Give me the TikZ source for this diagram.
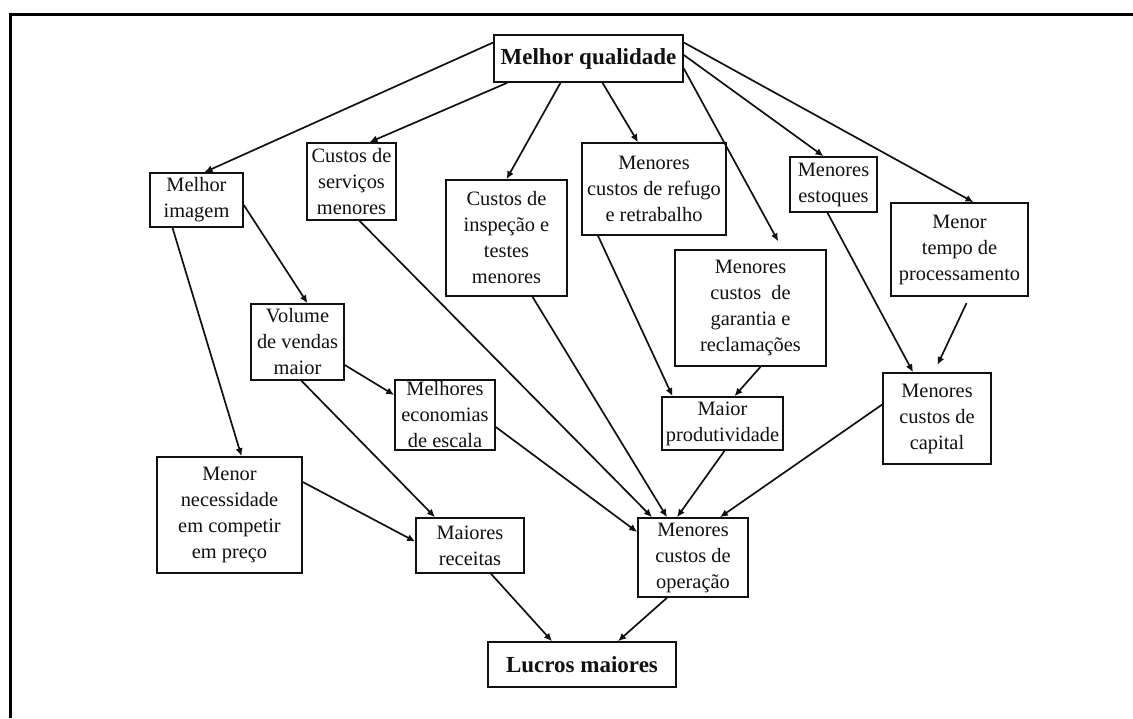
\documentclass[tikz,border=0pt]{standalone}
\usepackage{fontspec}
\setmainfont{Liberation Serif}
\usepackage{xcolor}
\usepackage{tikz}
\usetikzlibrary{arrows.meta}
\definecolor{qcInk}{HTML}{111111}
\tikzset{
  qc diagram/.style={font=\fontsize{10.2}{13}\selectfont, text=qcInk,
    line join=miter},
  qc box/.style={draw=qcInk, fill=white, line width=0.8pt,
    align=center, inner sep=1pt},
  qc key box/.style={qc box, font=\fontsize{11.5}{13}\selectfont\bfseries},
  qc arrow/.style={-{Latex[length=4pt,width=3.6pt]}, draw=qcInk, line width=0.85pt},
  qc frame/.style={draw=black, line width=1.5pt}
}

\begin{document}
\begin{tikzpicture}[qc diagram]
\begin{scope}[x=0.5pt,y=-0.5pt]
\useasboundingbox (0,0) rectangle (1133,718);
\draw[qc frame] (10,718) -- (10,14) -- (1133,14);
% top and bottom
\node[qc key box, minimum width=94.5pt, minimum height=23.5pt] (mq) at (588.5,58.5) {Melhor qualidade};
\node[qc key box, minimum width=94pt, minimum height=22.5pt] (lucros) at (582,664.5) {Lucros maiores};
% first row
\node[qc box, minimum width=46.5pt, minimum height=27pt] (imagem) at (196.5,200) {Melhor\\imagem};
\node[qc box, minimum width=44.5pt, minimum height=38.5pt] (servicos) at (351.5,181.5) {Custos de\\serviços\\menores};
\node[qc box, minimum width=60.5pt, minimum height=58pt] (inspecao) at (506.5,238) {Custos de\\inspeção e\\testes\\menores};
\node[qc box, minimum width=72pt, minimum height=46pt] (refugo) at (654,189) {Menores\\custos de refugo\\e retrabalho};
\node[qc box, minimum width=43.5pt, minimum height=27.5pt] (estoques) at (833.5,184.5) {Menores\\estoques};
\node[qc box, minimum width=68.5pt, minimum height=46.5pt] (tempo) at (959.5,249.5) {Menor\\tempo de\\processamento};
\node[qc box, minimum width=75.5pt, minimum height=58pt] (garantia) at (750.5,308) {Menores\\custos\ \ de\\garantia e\\reclamações};
% middle
\node[qc box, minimum width=46.5pt, minimum height=38pt] (volume) at (297.5,342) {Volume\\de vendas\\maior};
\node[qc box, minimum width=50pt, minimum height=35pt] (economias) at (445,415) {Melhores\\economias\\de escala};
\node[qc box, minimum width=60.5pt, minimum height=26.5pt] (produtiv) at (722.5,423.5) {Maior\\produtividade};
\node[qc box, minimum width=54pt, minimum height=45.5pt] (capital) at (937,418.5) {Menores\\custos de\\capital};
% lower row
\node[qc box, minimum width=72.5pt, minimum height=58pt] (necessidade) at (229.5,515) {Menor\\necessidade\\em competir\\em preço};
\node[qc box, minimum width=54pt, minimum height=27.5pt] (receitas) at (470,545.5) {Maiores\\receitas};
\node[qc box, minimum width=55pt, minimum height=39.5pt] (operacao) at (693,557.5) {Menores\\custos de\\operação};
% arrows from the top
\draw[qc arrow] ([yshift=8pt]mq.west) -- ([xshift=4pt]imagem.north);
\draw[qc arrow] ([xshift=7pt]mq.south west) -- ([xshift=9pt]servicos.north);
\draw[qc arrow] ([xshift=-14pt]mq.south) -- (inspecao.north);
\draw[qc arrow] ([xshift=7pt]mq.south) -- ([xshift=-8pt]refugo.north);
\draw[qc arrow, shorten >=4.5pt] ([yshift=-5pt]mq.east) -- ([xshift=16pt]garantia.north);
\draw[qc arrow] ([yshift=1.75pt]mq.east) -- ([xshift=-5pt]estoques.north);
\draw[qc arrow] ([yshift=8pt]mq.east) -- ([xshift=7pt]tempo.north);
% middle arrows
\draw[qc arrow] ([xshift=-12pt]imagem.south) -- ([xshift=6pt]necessidade.north);
\draw[qc arrow] ([yshift=-2.5pt]imagem.east) -- ([xshift=5pt]volume.north);
\draw[qc arrow] ([xshift=4pt]servicos.south) -- ([xshift=-20.5pt]operacao.north);
\draw[qc arrow] ([xshift=13pt]inspecao.south) -- ([xshift=-13pt]operacao.north);
\draw[qc arrow] ([xshift=-28pt]refugo.south) -- ([xshift=-25pt]produtiv.north);
\draw[qc arrow] ([xshift=5pt]garantia.south) -- ([xshift=6pt]produtiv.north);
\draw[qc arrow] ([xshift=-3pt]estoques.south) -- ([xshift=-12pt]capital.north);
\draw[qc arrow, shorten <=3.5pt, shorten >=4pt] ([xshift=5pt]tempo.south) -- ([xshift=-1.5pt]capital.north);
\draw[qc arrow] ([yshift=-11.5pt]volume.east) -- ([yshift=10pt]economias.west);
\draw[qc arrow] ([xshift=2pt]volume.south) -- ([xshift=-17.5pt]receitas.north);
\draw[qc arrow] ([yshift=-6pt]economias.east) -- ([yshift=12.75pt]operacao.west);
\draw[qc arrow] ([xshift=1pt]produtiv.south) -- ([xshift=-8pt]operacao.north);
\draw[qc arrow] ([yshift=7pt]capital.west) -- ([xshift=13.5pt]operacao.north);
\draw[qc arrow] ([yshift=16.5pt]necessidade.east) -- ([yshift=2pt]receitas.west);
% into the profits
\draw[qc arrow] ([xshift=10.5pt]receitas.south) -- ([xshift=-15pt]lucros.north);
\draw[qc arrow] ([xshift=-13pt]operacao.south) -- ([xshift=18pt]lucros.north);
\end{scope}
\end{tikzpicture}
\end{document}
